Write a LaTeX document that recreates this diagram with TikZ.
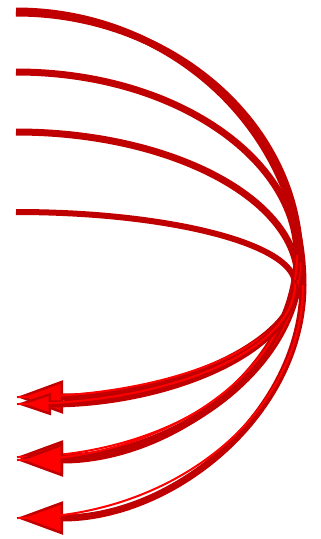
\documentclass[tikz,border=0pt]{standalone}
\usepackage{tikz}
\usetikzlibrary{arrows.meta}
\definecolor{dkred}{RGB}{192,0,0}
\definecolor{hired}{RGB}{255,0,0}

\begin{document}
\begin{tikzpicture}[
  x=1pt, y=-1pt,
  goes/.style={draw=dkred, line width=7pt},
  back/.style={draw=dkred, line width=7pt,
    postaction={draw=hired, line width=2pt, -}},
  bigtip/.style={-{Triangle[length=46pt, width=33pt, fill=hired, line width=2.5pt]}},
  smalltip/.style={-{Triangle[length=34pt, width=22pt, fill=hired, line width=2.5pt]}},
]
\useasboundingbox (0,0) rectangle (321,539);

% ---- start points (left, top) ----
\coordinate (s1) at (16,11);
\coordinate (s2) at (16,13);
\coordinate (s3) at (16,72);
\coordinate (s4) at (16,132);
\coordinate (s5) at (16,212);

% ---- turning points (right) ----
\coordinate (a1) at (303,285);
\coordinate (a2) at (300,262);
\coordinate (a3) at (297,255);
\coordinate (a4) at (298,280);
\coordinate (a5) at (295,284);

% ---- end points (left, bottom) ----
\coordinate (e1) at (17,518);
\coordinate (e2) at (17,457);
\coordinate (e3) at (17,460);
\coordinate (e4) at (17,397);
\coordinate (e5) at (17,404);

% ---- the way out ----
\draw[goes] (s1) .. controls +(158,0) and +(0,-151) .. (a1);
\draw[goes] (s2) .. controls +(156,0) and +(0,-137) .. (a2);
\draw[goes] (s3) .. controls +(160,0) and +(0,-95) .. (a3);
\draw[goes] (s4) .. controls +(155,0) and +(0,-81) .. (a4);
\draw[goes, line width=6pt] (s5) .. controls +(153,0) and +(0,-40) .. (a5);

% ---- the way back ----
\draw[back, bigtip] (a1) .. controls +(0,128) and +(157,0) .. (e1);
\draw[back, bigtip] (a2) .. controls +(0,107) and +(155,0) .. (e2);
\draw[back, bigtip] (a3) .. controls +(0,113) and +(153,0) .. (e3);
\draw[back, bigtip] (a4) .. controls +(0,64) and +(154,0) .. (e4);
\draw[back, smalltip] (a5) .. controls +(0,66) and +(153,0) .. (e5);

\end{tikzpicture}
\end{document}
